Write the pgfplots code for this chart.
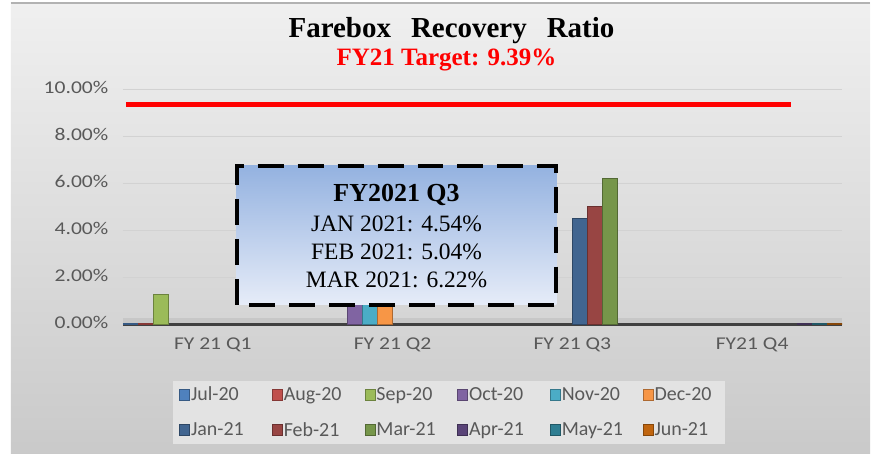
\documentclass[border=0pt]{standalone}
\usepackage{pgfplots}
\pgfplotsset{compat=1.18}
\usepackage{fontspec}
\setmainfont{Liberation Serif}
\newfontfamily\calib{Carlito}[FakeStretch=1.2]
\newfontfamily\calibn{Carlito}
\definecolor{tickgray}{HTML}{595959}
\definecolor{gridc}{HTML}{D2D2D2}
\definecolor{c1}{HTML}{4F81BD}
\definecolor{c2}{HTML}{C0504D}
\definecolor{c3}{HTML}{9BBB59}
\definecolor{c4}{HTML}{8064A2}
\definecolor{c5}{HTML}{4BACC6}
\definecolor{c6}{HTML}{F79646}
\definecolor{c7}{HTML}{416590}
\definecolor{c8}{HTML}{984543}
\definecolor{c9}{HTML}{76964A}
\definecolor{c10}{HTML}{5A4478}
\definecolor{c11}{HTML}{2F7E92}
\definecolor{c12}{HTML}{C0650F}
\definecolor{boxtop}{HTML}{94B2E0}
\definecolor{boxbot}{HTML}{E6ECF8}
\pgfplotsset{bstyle/.style 2 args={ybar, bar width=15bp, bar shift=#1, fill=#2, draw=#2!70!black, line width=0.6bp}}
\begin{document}
\begin{tikzpicture}
\fill[white] (0,0) rectangle (871bp,454bp);
\shade[top color=white!94!black, middle color=white!89!black, bottom color=white!79!black] (11bp,0) rectangle (871bp,451bp);
\draw[white!70!black, line width=2bp] (11bp,451bp) -- (871bp,451bp);
\fill[white!78!black] (123bp,129bp) rectangle (843bp,136bp);
\begin{axis}[
  at={(123bp,129bp)}, anchor=south west,
  scale only axis, width=720bp, height=235bp,
  xmin=-0.5, xmax=3.5, ymin=0, ymax=10,
  axis x line*=bottom, axis y line*=left,
  x axis line style={-, draw=white!25!black, line width=3bp},
  y axis line style={draw=none},
  xtick={0,1,2,3},
  xticklabels={FY 21 Q1, FY 21 Q2, FY 21 Q3, FY21 Q4},
  major x tick style={draw=none},
  extra x ticks={0.5,1.5,2.5,3.5},
  extra x tick labels={},
  extra x tick style={major tick length=5bp, tick align=outside, tick style={draw=white!25!black, line width=2bp}, grid=none},
  ytick={0,2,...,10},
  ymajorgrids, grid style={gridc, line width=1.2bp},
  major y tick style={draw=none},
  /pgf/number format/assume math mode=true,
  yticklabel={\pgfmathprintnumber[fixed,fixed zerofill,precision=2]{\tick}\%},
  yticklabel style={font=\calib\fontsize{18bp}{21bp}\selectfont, text=tickgray, xshift=-11bp, yshift=2bp},
  xticklabel style={font=\calib\fontsize{18bp}{21bp}\selectfont, text=tickgray, yshift=-10bp},
  legend columns=6,
  legend style={at={(0.454,-0.374)}, anchor=center, fill=white!89!black, draw=none,
    font=\calibn\fontsize{20bp}{23bp}\selectfont, text=tickgray,
    inner xsep=6bp, inner ysep=6bp, row sep=20bp,
    nodes={inner xsep=1bp, inner ysep=0bp},
    /tikz/every odd column/.append style={column sep=0bp},
    /tikz/every even column/.append style={column sep=0bp}},
  legend cell align=left,
  legend image code/.code={\draw[#1, line width=0.8bp] (0bp,-5.5bp) rectangle (10bp,5.5bp);},
]
\addplot[bstyle={-82.5bp}{c1}] coordinates {(0,0.05)}; \addlegendentry{\makebox[80bp][l]{Jul-20}}
\addplot[bstyle={-67.5bp}{c2}] coordinates {(0,0.05)}; \addlegendentry{\makebox[80bp][l]{Aug-20}}
\addplot[bstyle={-52.5bp}{c3}] coordinates {(0,1.3)}; \addlegendentry{\makebox[80bp][l]{Sep-20}}
\addplot[bstyle={-37.5bp}{c4}] coordinates {(1,0.9)}; \addlegendentry{\makebox[80bp][l]{Oct-20}}
\addplot[bstyle={-22.5bp}{c5}] coordinates {(1,0.9)}; \addlegendentry{\makebox[80bp][l]{Nov-20}}
\addplot[bstyle={-7.5bp}{c6}] coordinates {(1,0.9)}; \addlegendentry{\makebox[64bp][l]{Dec-20}}
\addplot[bstyle={7.5bp}{c7}] coordinates {(2,4.54)}; \addlegendentry{\makebox[80bp][l]{Jan-21}}
\addplot[bstyle={22.5bp}{c8}] coordinates {(2,5.04)}; \addlegendentry{\makebox[80bp][l]{Feb-21}}
\addplot[bstyle={37.5bp}{c9}] coordinates {(2,6.22)}; \addlegendentry{\makebox[80bp][l]{Mar-21}}
\addplot[bstyle={52.5bp}{c10}] coordinates {(3,0.05)}; \addlegendentry{\makebox[80bp][l]{Apr-21}}
\addplot[bstyle={67.5bp}{c11}] coordinates {(3,0.05)}; \addlegendentry{\makebox[80bp][l]{May-21}}
\addplot[bstyle={82.5bp}{c12}] coordinates {(3,0.05)}; \addlegendentry{\makebox[64bp][l]{Jun-21}}
\addplot[sharp plot, draw=red, line width=5bp, forget plot] coordinates {(-0.483,9.39) (3.217,9.39)};
\end{axis}
% annotation box
\shade[top color=boxtop, bottom color=boxbot] (237bp,149bp) rectangle (557bp,288bp);
\draw[black, line width=4bp, dash pattern=on 26bp off 14bp] (237bp,149bp) rectangle (557bp,288bp);
\node[anchor=base, font=\bfseries\fontsize{26bp}{30bp}\selectfont] at (397bp,252.3bp) {FY2021 Q3};
\node[anchor=base, font=\fontsize{23.5bp}{28bp}\selectfont] at (397bp,222.3bp) {JAN 2021: 4.54\%};
\node[anchor=base, font=\fontsize{23.5bp}{28bp}\selectfont] at (397bp,194bp) {FEB 2021: 5.04\%};
\node[anchor=base, font=\fontsize{23.5bp}{28bp}\selectfont] at (397bp,166bp) {MAR 2021: 6.22\%};
% titles
\node[anchor=base, font=\bfseries\fontsize{29bp}{33bp}\selectfont] at (452bp,416bp) {Farebox\hspace{20bp}Recovery\hspace{20bp}Ratio};
\node[anchor=base, text=red, font=\bfseries\fontsize{25bp}{29bp}\selectfont] at (447bp,388bp) {FY21 Target: 9.39\%};
\end{tikzpicture}
\end{document}
